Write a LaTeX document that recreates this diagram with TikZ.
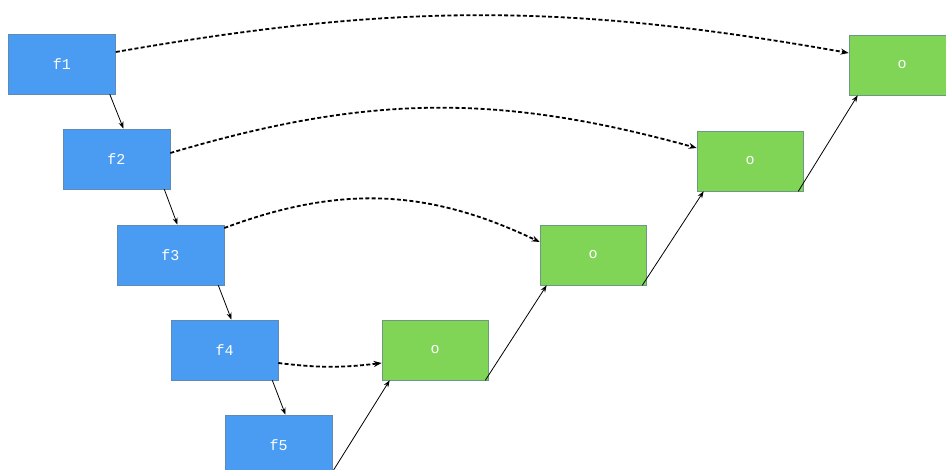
\documentclass[tikz,border=0pt]{standalone}
\usepackage{fontspec}
\setmonofont{Liberation Mono}
\usepackage{tikz}
\usetikzlibrary{arrows.meta,positioning}
\definecolor{fblue}{HTML}{4A9CF2}
\definecolor{fedge}{HTML}{5E8AB4}
\definecolor{ogreen}{HTML}{80D456}
\definecolor{oedge}{HTML}{6C9A80}
\tikzset{
  fbox/.style={
    rectangle, draw=fedge, fill=fblue, line width=0.6pt,
    minimum width=107pt, minimum height=60pt,
    font=\ttfamily\fontsize{15pt}{17pt}\selectfont, text=white,
    inner sep=0pt
  },
  obox/.style={
    rectangle, draw=oedge, fill=ogreen, line width=0.6pt,
    minimum width=106pt, minimum height=60pt,
    font=\ttfamily\fontsize{15pt}{17pt}\selectfont, text=white,
    inner sep=0pt
  },
  chainarrow/.style={
    -{Stealth[length=7pt,width=5pt]}, line width=0.8pt, black
  },
  skiparrow/.style={
    -{Stealth[length=8pt,width=6pt]}, line width=1.8pt, black,
    dash pattern=on 4pt off 2.3pt
  },
}
\begin{document}
\begin{tikzpicture}[x=1pt,y=1pt]
  \clip (0,0) rectangle (946,-470);
  \fill[white] (0,0) rectangle (946,-470);

  \node[fbox] (f1) at (62,-64) {f1};
  \node[fbox] (f2) at (116.5,-159) {f2};
  \node[fbox] (f3) at (170.5,-255) {f3};
  \node[fbox] (f4) at (224.5,-350) {f4};
  \node[fbox] (f5) at (278.5,-445) {f5};

  \node[obox] (o4) at (435,-350) {o};
  \node[obox] (o3) at (593,-255) {o};
  \node[obox] (o2) at (750,-161) {o};
  \node[obox] (o1) at (902,-65) {o};

  % down the f chain
  \draw[chainarrow] ([xshift=-6pt]f1.south east) -- ([xshift=7pt]f2.north);
  \draw[chainarrow] ([xshift=-6pt]f2.south east) -- ([xshift=7pt]f3.north);
  \draw[chainarrow] ([xshift=-6pt]f3.south east) -- ([xshift=7pt]f4.north);
  \draw[chainarrow] ([xshift=-6pt]f4.south east) -- ([xshift=7pt]f5.north);

  % back up the o chain
  \draw[chainarrow] ([xshift=-2pt]f5.south east) -- ([xshift=8pt]o4.south west);
  \draw[chainarrow] ([xshift=-3pt]o4.south east) -- ([xshift=7pt]o3.south west);
  \draw[chainarrow] ([xshift=-4pt]o3.south east) -- ([xshift=7pt]o2.south west);
  \draw[chainarrow] ([xshift=-5pt]o2.south east) -- ([xshift=9pt]o1.south west);

  % skip connections
  \draw[skiparrow] ([yshift=12pt]f1.east) to[bend left=10] ([yshift=12pt]o1.west);
  \draw[skiparrow] ([yshift=6pt]f2.east) to[bend left=16] ([yshift=13pt]o2.west);
  \draw[skiparrow] ([yshift=27pt]f3.east) to[bend left=23] ([yshift=13pt]o3.west);
  \draw[skiparrow] ([yshift=-13pt]f4.east) to[bend right=7] ([yshift=-13pt]o4.west);
\end{tikzpicture}
\end{document}
